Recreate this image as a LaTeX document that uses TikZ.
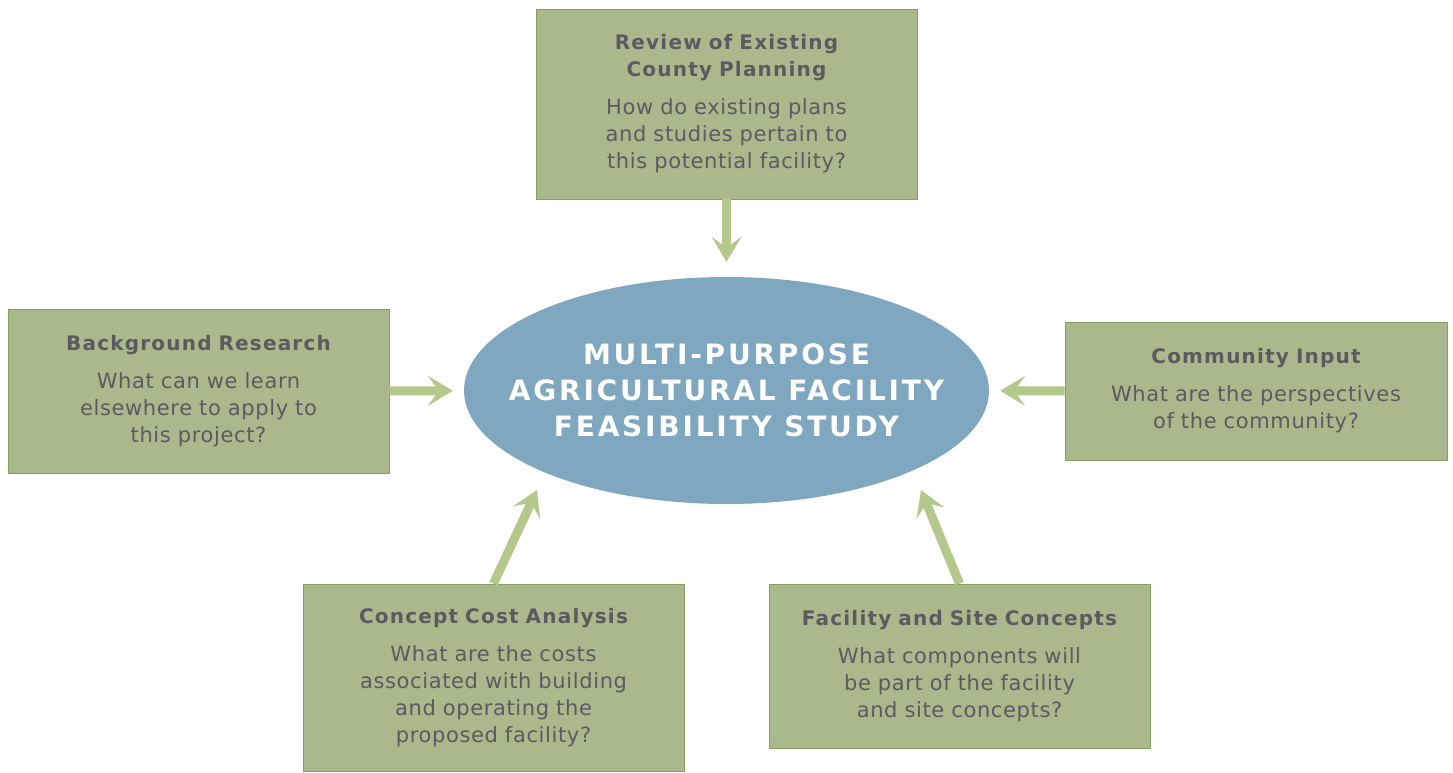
\documentclass[tikz,border=0pt]{standalone}
\usepackage{fontspec}
\setmainfont{DejaVu Sans}
\usetikzlibrary{arrows.meta,shapes.geometric}
\definecolor{boxfill}{RGB}{169,185,140}
\definecolor{boxedge}{RGB}{132,160,96}
\definecolor{arrowgreen}{RGB}{181,200,140}
\definecolor{hubblue}{RGB}{127,167,192}
\definecolor{textgray}{RGB}{88,92,96}
\tikzset {>={Stealth[length=25pt,width=30pt,inset=11pt]}}
\newcommand{\topichead}[1]{{\fontsize{20}{27}\selectfont\bfseries\addfontfeature{LetterSpace=6}#1}}

\begin{document}
\begin{tikzpicture}[x=1pt,y=-1pt,
  topic/.style={draw=boxedge,line width=0.8pt,fill=boxfill,text=textgray,align=center,
    inner sep=0pt,text width=381pt,font=\fontsize{21}{27}\selectfont\addfontfeature{LetterSpace=3}},
  feed/.style={->,draw=arrowgreen,line width=9pt}]
\useasboundingbox (0,0) rectangle (1453,772);

\node[ellipse,fill=hubblue,text=white,align=center,inner xsep=-34pt,inner ysep=0pt,
  minimum width=525pt,minimum height=227pt,
  font=\fontsize{28}{36}\selectfont\bfseries\addfontfeature{LetterSpace=10}]
  (hub) at (726.5,390.5) {MULTI-PURPOSE\\AGRICULTURAL FACILITY\\FEASIBILITY STUDY};

\node[topic,minimum height=190pt] (review) at (726.5,104)
  {\topichead{Review of Existing\\County Planning}\\[11pt]How do existing plans\\and studies pertain to\\this potential facility?};
\node[topic,minimum height=164pt] (background) at (198.5,391)
  {\topichead{Background Research}\\[11pt]What can we learn\\elsewhere to apply to\\this project?};
\node[topic,minimum height=138pt,text width=382pt] (community) at (1256,391)
  {\topichead{Community Input}\\[11pt]What are the perspectives\\of the community?};
\node[topic,minimum height=187pt] (cost) at (493.5,677.5)
  {\topichead{Concept Cost Analysis}\\[11pt]What are the costs\\associated with building\\and operating the\\proposed facility?};
\node[topic,minimum height=164pt] (concepts) at (959.5,666)
  {\topichead{Facility and Site Concepts}\\[11pt]What components will\\be part of the facility\\and site concepts?};

\coordinate (costtip) at (537,490);
\coordinate (conceptstip) at (921,490);

\draw[feed,shorten >=15pt] (review) -- (hub);
\draw[feed,shorten >=11pt] (background) -- (hub);
\draw[feed,shorten >=11pt] (community) -- (hub);
\draw[feed] (cost.north) -- (costtip);
\draw[feed] (concepts.north) -- (conceptstip);
\end{tikzpicture}
\end{document}
